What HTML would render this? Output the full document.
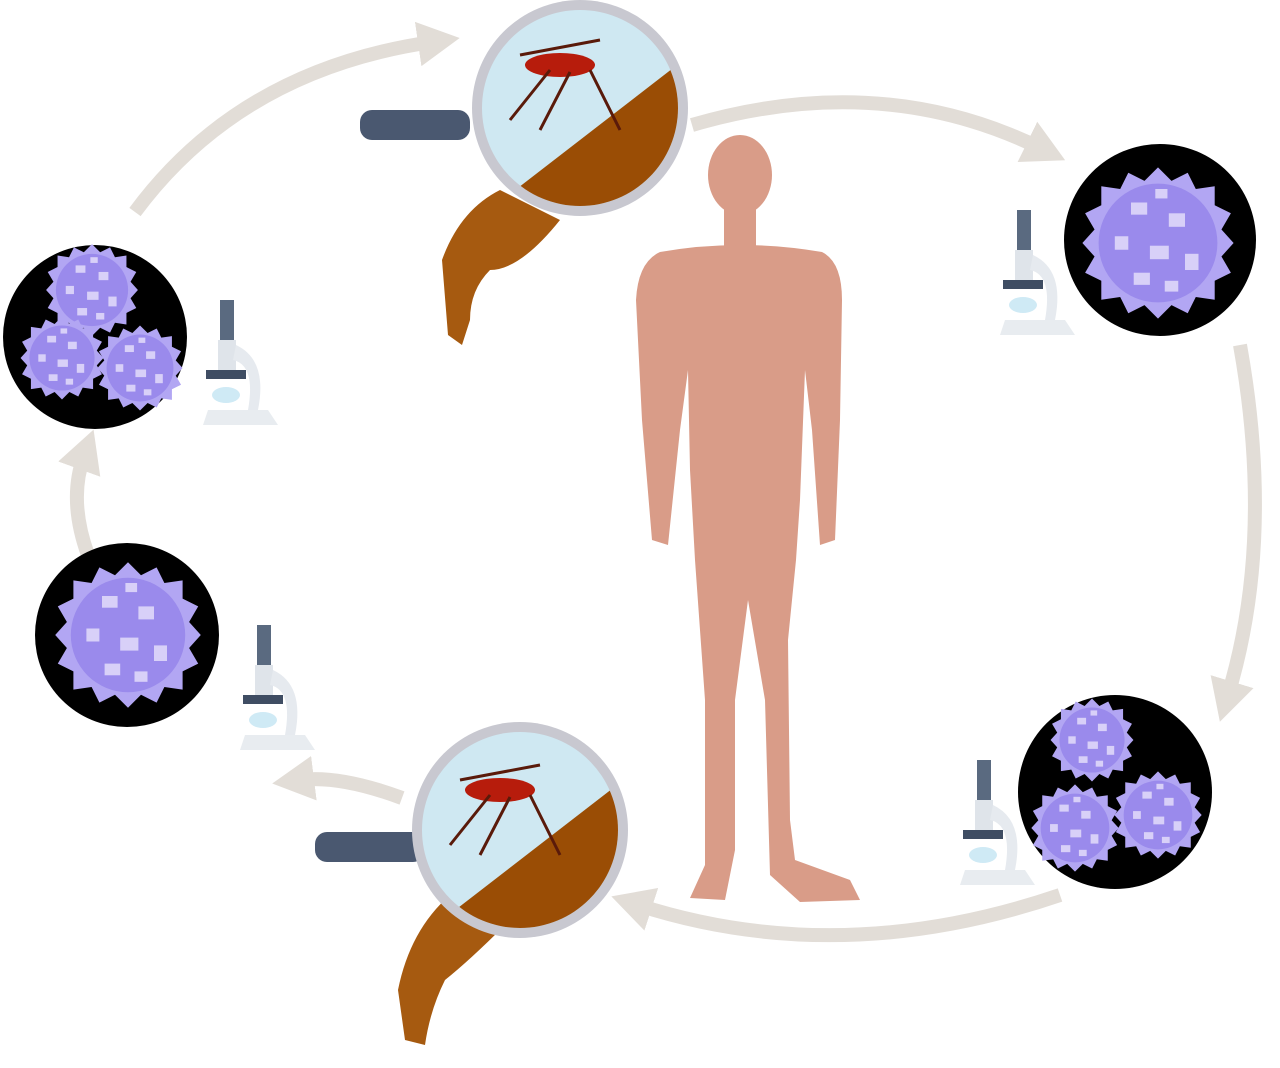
<!DOCTYPE html>
<html><head><meta charset="utf-8"><style>html,body{margin:0;padding:0;background:#fff}svg{display:block}</style></head>
<body>
<svg width="1280" height="1068" viewBox="0 0 1280 1068" xmlns="http://www.w3.org/2000/svg">
<defs>
<marker id="ah" markerWidth="3" markerHeight="3.2" refX="1" refY="1.6" orient="auto" markerUnits="strokeWidth">
<path d="M0,0 L3,1.6 L0,3.2 z" fill="#e2ddd7"/></marker>
<g id="blob">
<path d="M0,-56 L10,-46 L22,-52 L28,-40 L42,-42 L42,-28 L54,-22 L47,-10 L56,0 L47,10 L54,22 L42,28 L42,42 L28,40 L22,52 L10,46 L0,56 L-10,46 L-22,52 L-28,40 L-42,42 L-42,28 L-54,22 L-47,10 L-56,0 L-47,-10 L-54,-22 L-42,-28 L-42,-42 L-28,-40 L-22,-52 L-10,-46z" fill="#b2a6f3"/>
<circle r="44" fill="#9a8aec"/>
<g fill="#d8d0f8"><rect x="-20" y="-30" width="12" height="9"/><rect x="8" y="-22" width="12" height="10"/><rect x="-32" y="-5" width="10" height="10"/><rect x="-6" y="2" width="14" height="10"/><rect x="20" y="8" width="10" height="12"/><rect x="-18" y="22" width="12" height="9"/><rect x="5" y="28" width="10" height="8"/><rect x="-2" y="-40" width="9" height="7"/></g>
</g>
<g id="scope">
<rect x="-8" y="0" width="14" height="45" fill="#5a6a80"/>
<rect x="-10" y="40" width="18" height="30" fill="#dfe4ea"/>
<path d="M8,45 Q40,60 30,110 L20,110 Q28,65 5,60z" fill="#e6eaef"/>
<rect x="-22" y="70" width="40" height="9" fill="#3f4d63"/>
<ellipse cx="-2" cy="95" rx="14" ry="8" fill="#cfeaf5"/>
<path d="M-20,110 L40,110 L50,125 L-25,125z" fill="#e8ecf0"/>
</g>
</defs>
<rect width="1280" height="1068" fill="#fff"/>
<g fill="none" stroke="#e2ddd7" stroke-width="14" stroke-linecap="butt">
<path d="M135,212 Q240,70 432,42" marker-end="url(#ah)"/>
<path d="M692,125 Q880,70 1040,148" marker-end="url(#ah)"/>
<path d="M1240,345 Q1275,540 1228,695" marker-end="url(#ah)"/>
<path d="M1060,895 Q840,970 638,905" marker-end="url(#ah)"/>
<path d="M402,798 Q340,775 300,780" marker-end="url(#ah)"/>
<path d="M88,555 Q68,500 84,456" marker-end="url(#ah)"/>
</g>
<circle cx="95" cy="337" r="92" fill="#000"/>
<circle cx="1160" cy="240" r="96" fill="#000"/>
<circle cx="1115" cy="792" r="97" fill="#000"/>
<circle cx="127" cy="635" r="92" fill="#000"/>
<use href="#blob" transform="translate(92,290) scale(0.82)"/>
<use href="#blob" transform="translate(62,358) scale(0.74)"/>
<use href="#blob" transform="translate(140,368) scale(0.76)"/>
<use href="#blob" transform="translate(1158,243) scale(1.35)"/>
<use href="#blob" transform="translate(1092,740) scale(0.74)"/>
<use href="#blob" transform="translate(1075,828) scale(0.78)"/>
<use href="#blob" transform="translate(1158,815) scale(0.78)"/>
<use href="#blob" transform="translate(128,635) scale(1.3)"/>
<use href="#scope" transform="translate(228,300)"/>
<use href="#scope" transform="translate(1025,210)"/>
<use href="#scope" transform="translate(985,760)"/>
<use href="#scope" transform="translate(265,625)"/>
<g fill="#d99c88">
<ellipse cx="740" cy="175" rx="32" ry="40"/>
<rect x="724" y="205" width="32" height="50"/>
<path d="M660,252 Q740,238 822,252 Q842,262 842,300 L840,420 L835,540 L820,545 L812,430 L805,370 L800,500 L796,560 L788,640 L790,820 L795,860 L850,880 L860,900 L800,902 L770,875 L765,700 L748,600 L735,700 L735,850 L725,900 L690,898 L705,865 L705,700 L695,560 L690,470 L688,370 L680,430 L668,545 L652,540 L642,420 L636,300 Q638,262 660,252z"/>
</g>
<path d="M500,190 L560,220 Q520,270 490,270 Q470,290 470,320 L462,345 L448,335 L442,260 Q460,210 500,190z" fill="#a65a10"/>
<path d="M450,895 L505,925 Q470,960 445,980 Q430,1010 425,1045 L405,1040 L398,990 Q410,930 450,895z" fill="#a65a10"/>
<rect x="360" y="110" width="110" height="30" rx="12" fill="#4a5870"/>
<circle cx="580" cy="108" r="108" fill="#c8c8d0"/>
<clipPath id="c1"><circle cx="580" cy="108" r="98"/></clipPath>
<g clip-path="url(#c1)">
<rect x="470" y="0" width="220" height="220" fill="#cfe8f2"/>
<path d="M470,225 L690,55 L690,225z" fill="#9a4d05"/>
<ellipse cx="560" cy="65" rx="35" ry="12" fill="#b71c0c"/>
<path d="M520,55 L600,40 M550,70 L510,120 M570,72 L540,130 M590,70 L620,130" stroke="#5a1a0a" stroke-width="3" fill="none"/>
</g>
<rect x="315" y="832" width="110" height="30" rx="12" fill="#4a5870"/>
<circle cx="520" cy="830" r="108" fill="#c8c8d0"/>
<clipPath id="c2"><circle cx="520" cy="830" r="98"/></clipPath>
<g clip-path="url(#c2)">
<rect x="410" y="720" width="220" height="220" fill="#cfe8f2"/>
<path d="M410,945 L630,775 L630,945z" fill="#9a4d05"/>
<ellipse cx="500" cy="790" rx="35" ry="12" fill="#b71c0c"/>
<path d="M460,780 L540,765 M490,795 L450,845 M510,797 L480,855 M530,795 L560,855" stroke="#5a1a0a" stroke-width="3" fill="none"/>
</g>
</svg>
</body></html>
